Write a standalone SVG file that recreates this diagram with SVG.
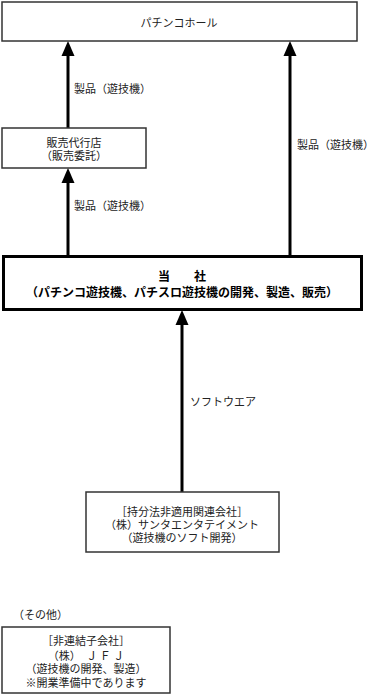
<svg xmlns="http://www.w3.org/2000/svg" width="387" height="695" viewBox="0 0 387 695">
<style>
text{font-family:"Noto Sans CJK JP","Noto Sans CJK SC",sans-serif;font-size:11px;fill:#222;text-anchor:middle}
.l{text-anchor:start}
.b{font-weight:bold;font-size:12px;fill:#000}
.box{fill:#fff;stroke:#333;stroke-width:1.5}
.main{fill:#fff;stroke:#000;stroke-width:3}
.ln{stroke:#000;stroke-width:3;fill:none}
.hd{fill:#000}
</style>
<g id="connectors">
<line class="ln" x1="68" y1="128" x2="68" y2="55"/><polygon class="hd" points="61.5,56 74.5,56 68,41"/>
<line class="ln" x1="290" y1="256" x2="290" y2="55"/><polygon class="hd" points="283.5,56 296.5,56 290,41"/>
<line class="ln" x1="68" y1="256" x2="68" y2="182"/><polygon class="hd" points="61.5,183 74.5,183 68,168"/>
<line class="ln" x1="182" y1="492" x2="182" y2="324"/><polygon class="hd" points="175.5,325 188.5,325 182,310"/>
<text class="l" x="74" y="93">製品（遊技機）</text>
<text class="l" x="297" y="149">製品（遊技機）</text>
<text class="l" x="74" y="210">製品（遊技機）</text>
<text class="l" x="190" y="406">ソフトウエア</text>
</g>
<g id="hall">
<rect class="box" x="2" y="2" width="355" height="39"/>
<text x="179" y="27">パチンコホール</text>
</g>
<g id="agent">
<rect class="box" x="2" y="128" width="144" height="40"/>
<text x="74" y="147">販売代行店</text>
<text x="74" y="160">（販売委託）</text>
</g>
<g id="company">
<rect class="main" x="3.5" y="256.5" width="358" height="53"/>
<text class="b" x="182" y="281">当　　社</text>
<text class="b" x="182" y="297">（パチンコ遊技機、パチスロ遊技機の開発、製造、販売）</text>
</g>
<g id="sunta">
<rect class="box" x="86" y="492" width="193" height="60"/>
<text x="182" y="516">［持分法非適用関連会社］</text>
<text x="182" y="529">（株）サンタエンタテイメント</text>
<text x="182" y="542">（遊技機のソフト開発）</text>
</g>
<text class="l" x="13" y="619">（その他）</text>
<g id="jfj">
<rect class="box" x="2" y="627" width="168" height="66"/>
<text x="86" y="645">［非連結子会社］</text>
<text x="86" y="660">（株）　Ｊ Ｆ Ｊ</text>
<text x="86" y="673">（遊技機の開発、製造）</text>
<text x="86" y="687">※開業準備中であります</text>
</g>
</svg>
